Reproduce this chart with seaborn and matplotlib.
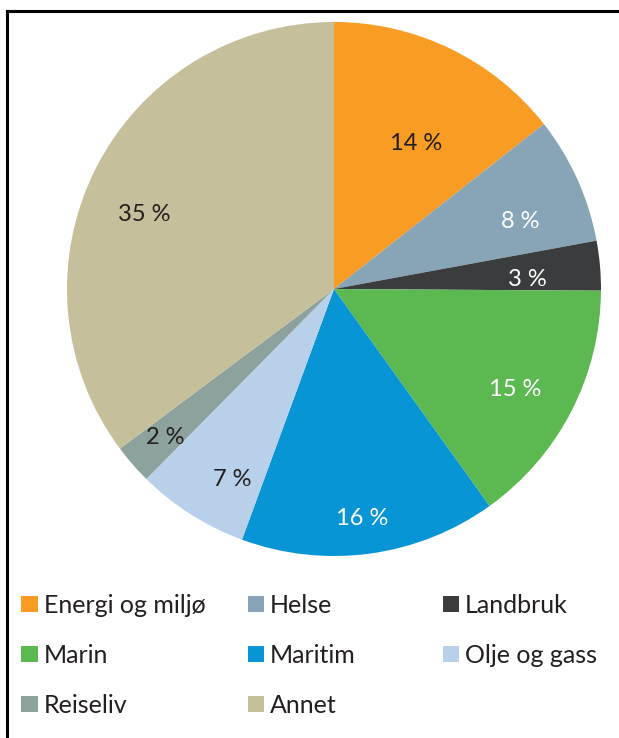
import numpy as np
import matplotlib
matplotlib.use("Agg")
import matplotlib.pyplot as plt
from matplotlib.patches import Patch
from matplotlib.lines import Line2D
import seaborn as sns

# Data (shares read from the wedge boundaries, labels shown rounded)
labels = ['Energi og miljø', 'Helse', 'Landbruk', 'Marin', 'Maritim',
          'Olje og gass', 'Reiseliv', 'Annet']
shares = [14.4, 7.7, 3.0, 15.0, 15.5, 6.8, 2.4, 35.2]
pct_labels = ['14 %', '8 %', '3 %', '15 %', '16 %', '7 %', '2 %', '35 %']
colors = ['#F89C24', '#87A5B7', '#3A3C3D', '#5CB952', '#0895D5',
          '#B9D0EA', '#8DA19D', '#C5BF9C']
label_colors = ['#231F20', 'white', 'white', 'white', 'white',
                '#231F20', '#231F20', '#231F20']
# label placement inside each wedge: radius fraction and angle nudge (deg)
label_radius = [0.634, 0.744, 0.724, 0.771, 0.857, 0.801, 0.836, 0.768]
label_nudge = [-3.1, -3.7, -1.4, -1.0, -0.7, 3.9, 0.0, 4.5]

sns.set_theme(style='white')
plt.rcParams['font.family'] = ['Lato', 'DejaVu Sans']

fig = plt.figure(figsize=(6.19, 7.38), dpi=100)
ax = fig.add_axes([0.5396 - 0.4314, 0.6084 - 0.3618, 0.8627, 0.7236])

wedges, _ = ax.pie(shares, colors=colors, startangle=90, counterclock=False,
                   wedgeprops=dict(linewidth=0))
ax.set_xlim(-1, 1)
ax.set_ylim(-1, 1)
ax.set_aspect('equal')

for w, t, c, r, d in zip(wedges, pct_labels, label_colors, label_radius,
                         label_nudge):
    ang = np.deg2rad((w.theta1 + w.theta2) / 2 + d)
    ax.annotate(t, (r * np.cos(ang), r * np.sin(ang)), xytext=(0, -1.7),
                textcoords='offset points', ha='center', va='center',
                fontsize=17, color=c)

# legend in three columns
handles = [Patch(facecolor=c, edgecolor='none') for c in colors]
col_x = [0.034, 0.400, 0.715]
for i, x in enumerate(col_x):
    idx = list(range(i, len(labels), 3))
    fig.legend([handles[j] for j in idx], [labels[j] for j in idx],
               loc='upper left', bbox_to_anchor=(x, 0.1955), frameon=False,
               fontsize=18, handlelength=0.66, handleheight=0.66,
               handletextpad=0.24, labelspacing=1.08, borderpad=0,
               borderaxespad=0, labelcolor='#231F20')

# frame around the chart
fig.add_artist(Line2D([0.0113, 0.0113], [0.0, 0.985], color='black', lw=2.2,
                      transform=fig.transFigure, solid_capstyle='projecting'))
fig.add_artist(Line2D([0.0113, 1.0], [0.985, 0.985], color='black', lw=2.2,
                      transform=fig.transFigure, solid_capstyle='projecting'))

fig.savefig('out.png', dpi=100)
